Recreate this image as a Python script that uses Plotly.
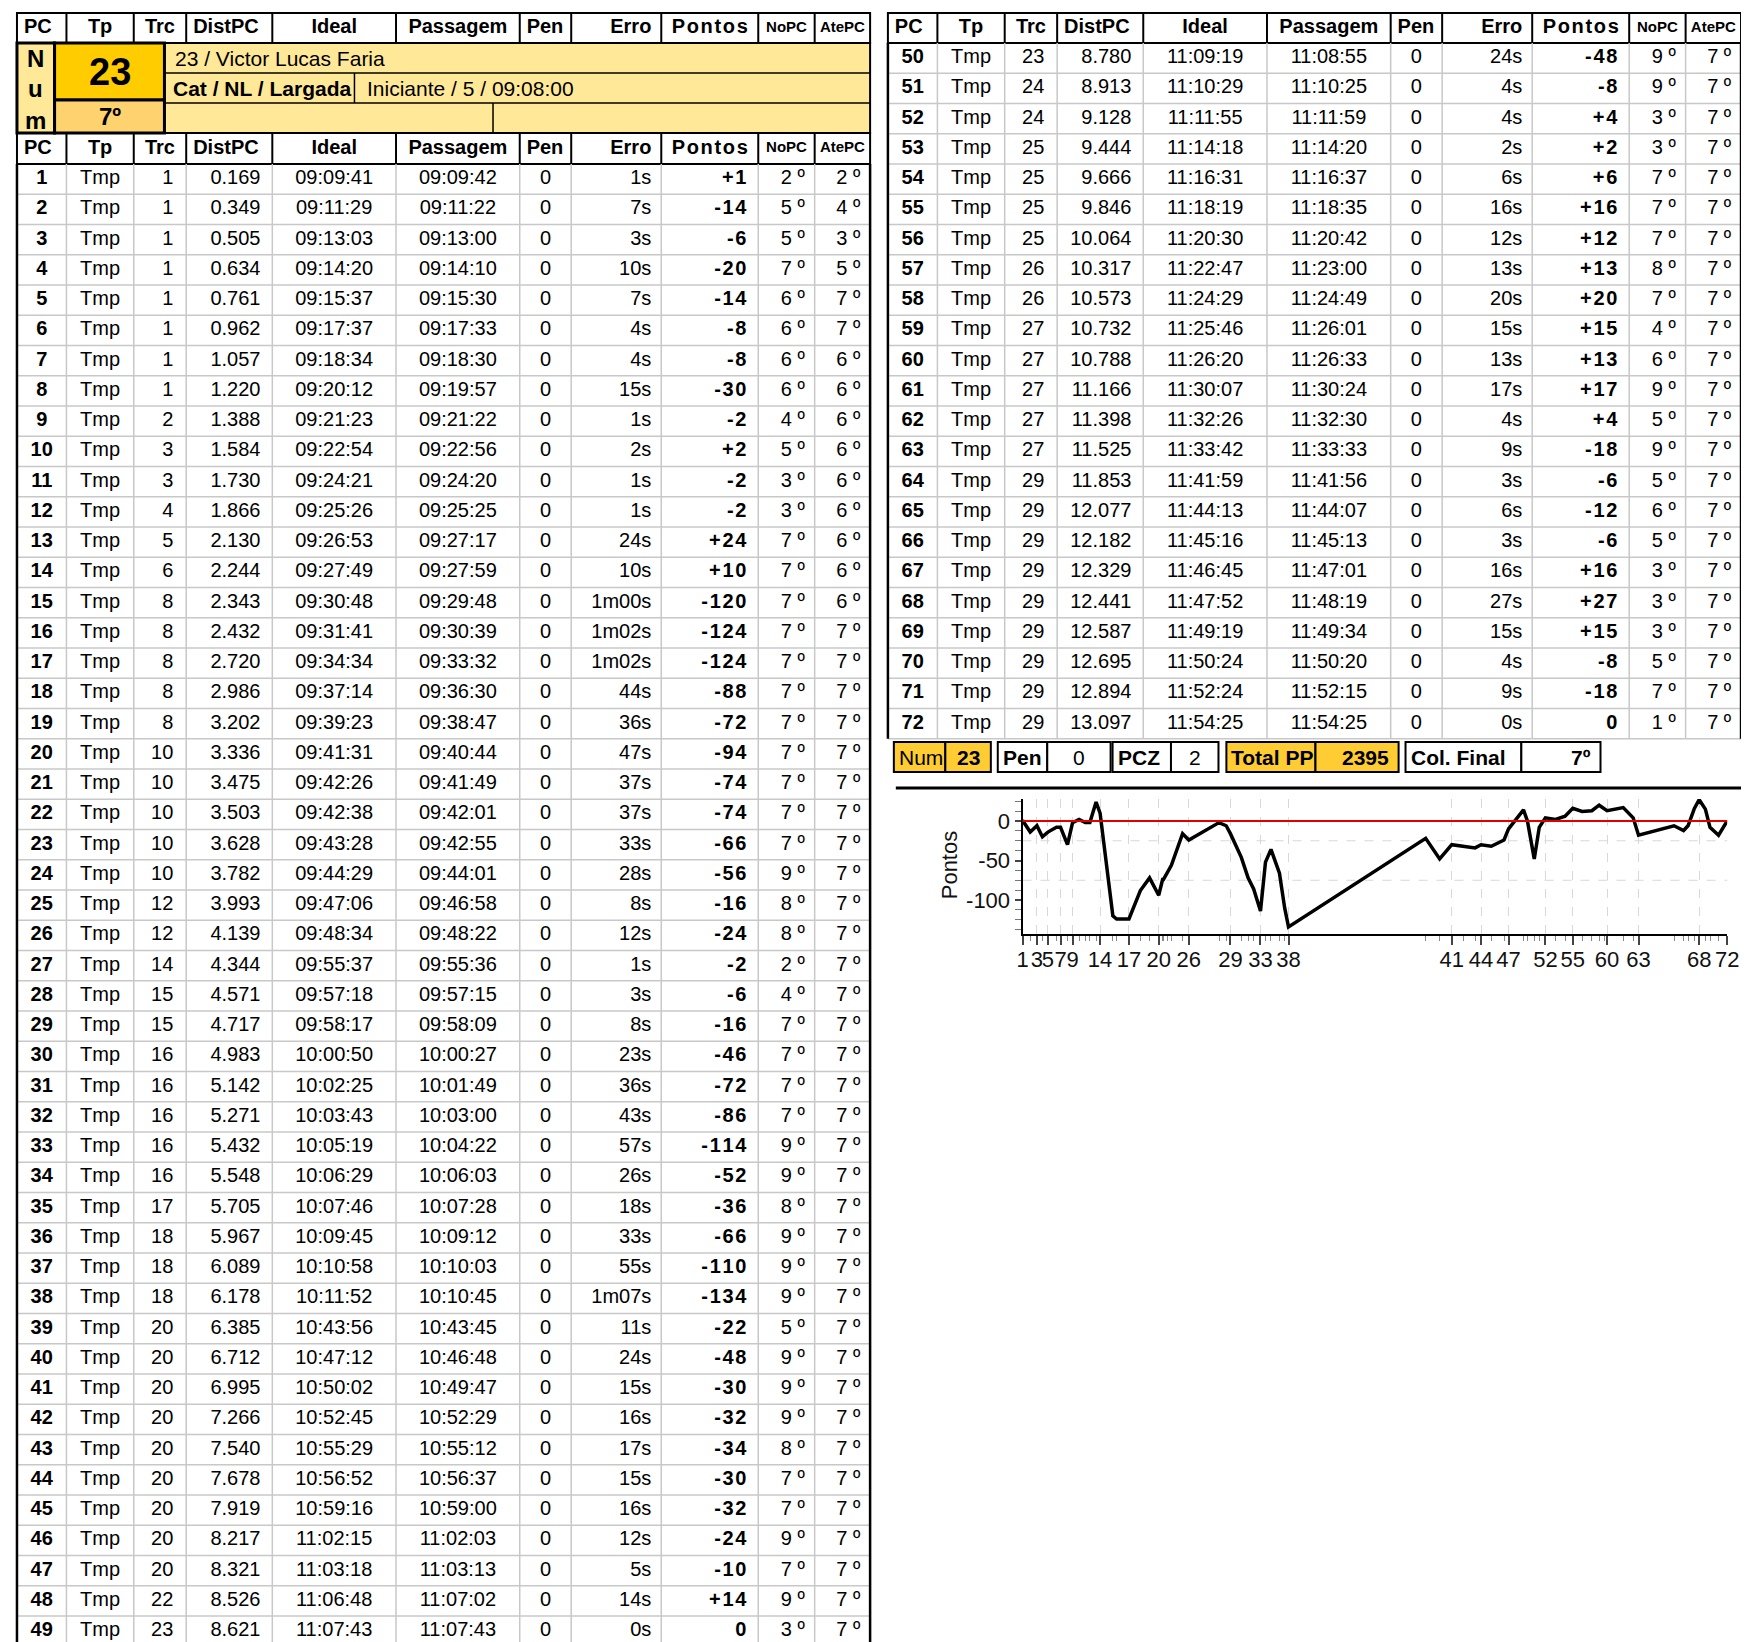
import plotly.graph_objects as go

W, H = 1749, 1642
OFF = 8  # default page margin of the html body
FONT = "Liberation Sans, Arial, sans-serif"

# ---------------- data ----------------
pc = list(range(1, 73))
tp = ["Tmp"] * 72
trc = [1, 1, 1, 1, 1, 1, 1, 1, 2, 3, 3, 4, 5, 6, 8, 8, 8, 8, 8, 10, 10, 10, 10, 10, 12, 12, 14, 15, 15, 16,
       16, 16, 16, 16, 17, 18, 18, 18, 20, 20, 20, 20, 20, 20, 20, 20, 20, 22, 23,
       23, 24, 24, 25, 25, 25, 25, 26, 26, 27, 27, 27, 27, 27, 29, 29, 29, 29, 29, 29, 29, 29, 29]
dist_pc = [0.169, 0.349, 0.505, 0.634, 0.761, 0.962, 1.057, 1.220, 1.388, 1.584, 1.730, 1.866, 2.130, 2.244,
           2.343, 2.432, 2.720, 2.986, 3.202, 3.336, 3.475, 3.503, 3.628, 3.782, 3.993, 4.139, 4.344, 4.571,
           4.717, 4.983, 5.142, 5.271, 5.432, 5.548, 5.705, 5.967, 6.089, 6.178, 6.385, 6.712, 6.995, 7.266,
           7.540, 7.678, 7.919, 8.217, 8.321, 8.526, 8.621,
           8.780, 8.913, 9.128, 9.444, 9.666, 9.846, 10.064, 10.317, 10.573, 10.732, 10.788, 11.166, 11.398,
           11.525, 11.853, 12.077, 12.182, 12.329, 12.441, 12.587, 12.695, 12.894, 13.097]
ideal = ["09:09:41", "09:11:29", "09:13:03", "09:14:20", "09:15:37", "09:17:37", "09:18:34", "09:20:12",
         "09:21:23", "09:22:54", "09:24:21", "09:25:26", "09:26:53", "09:27:49", "09:30:48", "09:31:41",
         "09:34:34", "09:37:14", "09:39:23", "09:41:31", "09:42:26", "09:42:38", "09:43:28", "09:44:29",
         "09:47:06", "09:48:34", "09:55:37", "09:57:18", "09:58:17", "10:00:50", "10:02:25", "10:03:43",
         "10:05:19", "10:06:29", "10:07:46", "10:09:45", "10:10:58", "10:11:52", "10:43:56", "10:47:12",
         "10:50:02", "10:52:45", "10:55:29", "10:56:52", "10:59:16", "11:02:15", "11:03:18", "11:06:48",
         "11:07:43",
         "11:09:19", "11:10:29", "11:11:55", "11:14:18", "11:16:31", "11:18:19", "11:20:30", "11:22:47",
         "11:24:29", "11:25:46", "11:26:20", "11:30:07", "11:32:26", "11:33:42", "11:41:59", "11:44:13",
         "11:45:16", "11:46:45", "11:47:52", "11:49:19", "11:50:24", "11:52:24", "11:54:25"]
passagem = ["09:09:42", "09:11:22", "09:13:00", "09:14:10", "09:15:30", "09:17:33", "09:18:30", "09:19:57",
            "09:21:22", "09:22:56", "09:24:20", "09:25:25", "09:27:17", "09:27:59", "09:29:48", "09:30:39",
            "09:33:32", "09:36:30", "09:38:47", "09:40:44", "09:41:49", "09:42:01", "09:42:55", "09:44:01",
            "09:46:58", "09:48:22", "09:55:36", "09:57:15", "09:58:09", "10:00:27", "10:01:49", "10:03:00",
            "10:04:22", "10:06:03", "10:07:28", "10:09:12", "10:10:03", "10:10:45", "10:43:45", "10:46:48",
            "10:49:47", "10:52:29", "10:55:12", "10:56:37", "10:59:00", "11:02:03", "11:03:13", "11:07:02",
            "11:07:43",
            "11:08:55", "11:10:25", "11:11:59", "11:14:20", "11:16:37", "11:18:35", "11:20:42", "11:23:00",
            "11:24:49", "11:26:01", "11:26:33", "11:30:24", "11:32:30", "11:33:33", "11:41:56", "11:44:07",
            "11:45:13", "11:47:01", "11:48:19", "11:49:34", "11:50:20", "11:52:15", "11:54:25"]
pen = [0] * 72
erro = ["1s", "7s", "3s", "10s", "7s", "4s", "4s", "15s", "1s", "2s", "1s", "1s", "24s", "10s", "1m00s",
        "1m02s", "1m02s", "44s", "36s", "47s", "37s", "37s", "33s", "28s", "8s", "12s", "1s", "3s", "8s",
        "23s", "36s", "43s", "57s", "26s", "18s", "33s", "55s", "1m07s", "11s", "24s", "15s", "16s", "17s",
        "15s", "16s", "12s", "5s", "14s", "0s",
        "24s", "4s", "4s", "2s", "6s", "16s", "12s", "13s", "20s", "15s", "13s", "17s", "4s", "9s", "3s",
        "6s", "3s", "16s", "27s", "15s", "4s", "9s", "0s"]
pontos = [1, -14, -6, -20, -14, -8, -8, -30, -2, 2, -2, -2, 24, 10, -120, -124, -124, -88, -72, -94, -74,
          -74, -66, -56, -16, -24, -2, -6, -16, -46, -72, -86, -114, -52, -36, -66, -110, -134, -22, -48,
          -30, -32, -34, -30, -32, -24, -10, 14, 0,
          -48, -8, 4, 2, 6, 16, 12, 13, 20, 15, 13, 17, 4, -18, -6, -12, -6, 16, 27, 15, -8, -18, 0]
no_pc = [2, 5, 5, 7, 6, 6, 6, 6, 4, 5, 3, 3, 7, 7, 7, 7, 7, 7, 7, 7, 7, 7, 7, 9, 8, 8, 2, 4, 7, 7, 7, 7, 9,
         9, 8, 9, 9, 9, 5, 9, 9, 9, 8, 7, 7, 9, 7, 9, 3,
         9, 9, 3, 3, 7, 7, 7, 8, 7, 4, 6, 9, 5, 9, 5, 6, 5, 3, 3, 3, 5, 7, 1]
ate_pc = [2, 4, 3, 5, 7, 7, 6, 6, 6, 6, 6, 6, 6, 6, 6, 7, 7, 7, 7, 7, 7, 7, 7, 7, 7, 7, 7, 7, 7, 7, 7, 7,
          7, 7, 7, 7, 7, 7, 7, 7, 7, 7, 7, 7, 7, 7, 7, 7, 7,
          7, 7, 7, 7, 7, 7, 7, 7, 7, 7, 7, 7, 7, 7, 7, 7, 7, 7, 7, 7, 7, 7, 7]

headers = ["PC", "Tp", "Trc", "DistPC", "Ideal", "Passagem", "Pen", "Erro", "Pontos", "NoPC", "AtePC"]
chart_label_pcs = [1, 3, 5, 7, 9, 14, 17, 20, 26, 29, 33, 38, 41, 44, 47, 52, 55, 60, 63, 68, 72]

comp_num = "23"
comp_name = "Victor Lucas Faria"
cat_label = "Cat / NL / Largada"
categoria, nl, largada = "Iniciante", 5, "09:08:00"
colocacao = "7º"
summary_labels = ["Num", "Pen", "PCZ", "Total PP", "Col. Final"]
summary_values = ["23", "0", "2", "2395", "7º"]

# ---------------- layout constants (page pixels) ----------------
COL_W = [50, 68, 53, 87, 125, 125, 52, 91, 98, 57, 56]
LEFT_X0, RIGHT_X0 = 11, 891
ROW_H = 30.25
GRID = "#C8C8C8"
HS = "\u200a"

hdr_align = ["left", "center", "center", "left", "center", "center", "left", "right", "center", "center", "center"]
hdr_size = [20, 20, 20, 20, 20, 20, 20, 20, 20, 15, 15]
cell_align = ["center", "center", "right", "right", "center", "center", "center", "right", "right", "right", "right"]
cell_pad = [0, 0, 13, 12, 0, 0, 0, 10, 12, 10, 10]


def bounds(x0):
    b = [x0]
    for w in COL_W:
        b.append(b[-1] + w)
    return b


def fmt_pontos(v):
    s = f"+{v}" if v > 0 else str(v)
    return "<b>" + HS.join(s) + "</b>"


def columns(sl):
    return [
        ["<b>%d</b>" % v for v in pc[sl]],
        tp[sl],
        [str(v) for v in trc[sl]],
        ["%.3f" % v for v in dist_pc[sl]],
        ideal[sl],
        passagem[sl],
        [str(v) for v in pen[sl]],
        erro[sl],
        [fmt_pontos(v) for v in pontos[sl]],
        ["%d º" % v for v in no_pc[sl]],
        ["%d º" % v for v in ate_pc[sl]],
    ]


fig = go.Figure()
shapes = []
annots = []


def add_text(xs, ys, texts, pos, size=20, color="black"):
    fig.add_trace(go.Scatter(x=xs, y=ys, text=texts, mode="text", textposition=pos,
                             textfont=dict(family=FONT, size=size, color=color),
                             hoverinfo="skip", showlegend=False, xaxis="x2", yaxis="y2"))


def anchor_x(b, c, align, pad):
    if align == "left":
        return b[c] + pad, "middle right"
    if align == "right":
        return b[c + 1] - pad, "middle left"
    return (b[c] + b[c + 1]) / 2, "middle center"


def line(x0, y0, x1, y1, color="black", width=2, dash="solid", layer="above"):
    shapes.append(dict(type="line", xref="x2", yref="y2", x0=x0, y0=y0, x1=x1, y1=y1,
                       line=dict(color=color, width=width, dash=dash), layer=layer))


def rect(x0, y0, x1, y1, fill="rgba(0,0,0,0)", lw=2, lc="black"):
    shapes.append(dict(type="rect", xref="x2", yref="y2", x0=x0, y0=y0, x1=x1, y1=y1,
                       fillcolor=fill, line=dict(color=lc, width=lw), layer="above"))


def text(s, x, y, size=20, anchor="left", bold=False, color="black"):
    annots.append(dict(text=("<b>%s</b>" % s) if bold else s, xref="x2", yref="y2", x=x, y=y,
                       showarrow=False, xanchor=anchor, yanchor="middle",
                       font=dict(family=FONT, size=size, color=color)))


def header_row(b, y0, y1):
    xr = b[-1]
    rect(b[0], y0, xr, y1, "rgba(0,0,0,0)", 2)
    for x in b[1:-1]:
        line(x, y0, x, y1, "black", 2)
    yc = (y0 + y1) / 2
    for c, h in enumerate(headers):
        lab = "<b>" + (HS.join(h) if h == "Pontos" else h) + "</b>"
        pad = 7 if hdr_align[c] == "left" else 10
        x, pos = anchor_x(b, c, hdr_align[c], pad)
        add_text([x], [yc], [lab], pos, hdr_size[c])


def data_block(b, top, sl, bottom_limit):
    cols = columns(sl)
    n = len(cols[0])
    ys = [top + (i + 0.5) * ROW_H for i in range(n)]
    bottom = min(top + n * ROW_H, bottom_limit)
    xr = b[-1]
    for i in range(1, n + 1):
        y = top + i * ROW_H
        if y <= bottom_limit:
            line(b[0], y, xr, y, GRID, 1.5)
    for x in b[1:-1]:
        line(x, top, x, bottom, GRID, 1.5)
    line(b[0], top, b[0], bottom, "black", 2.5)
    line(b[-1], top, b[-1], bottom, "black", 2.5)
    for c in range(len(headers)):
        x, pos = anchor_x(b, c, cell_align[c], cell_pad[c])
        add_text([x] * n, ys, cols[c], pos, 20)


bl = bounds(LEFT_X0)
br = bounds(RIGHT_X0)

# left table
header_row(bl, 13, 43)
header_row(bl, 133, 164)
data_block(bl, 164, slice(0, 49), H + 20)
# right table
header_row(br, 13, 43)
data_block(br, 43, slice(49, 72), H)

# ---------------- Num block ----------------
LY = "#FFE999"
rect(160, 43, bl[-1], 133, LY, 2)
line(160, 73, bl[-1], 73, "black", 1.5)
line(160, 103, bl[-1], 103, "black", 1.5)
line(352, 73, 352, 103, "black", 1.5)
line(492, 103, 492, 133, "black", 1.5)
rect(11, 43, 49, 133, LY, 3)
rect(49, 43, 160, 100, "#FFCC00", 3)
rect(49, 100, 160, 133, "#FFD270", 3)
for ch, yy in zip("Num", (58, 88, 120)):
    text(ch, 30, yy, 24, "center", True)
text(comp_num, 104.5, 72, 38, "center", True)
text(colocacao, 104.5, 116, 24, "center", True)
text(f"{comp_num} / {comp_name}", 169, 58, 21)
text(cat_label, 167, 88, 21, bold=True)
text(f"{categoria} / {nl} / {largada}", 363, 88, 21)

# ---------------- summary boxes ----------------
GOLD = "#FFCC33"
boxes = [(897, 949, 995, GOLD), (1002, 1052, 1116, "white"), (1118, 1177, 1225, "white"),
         (1233, 1323, 1407, GOLD), (1414, 1531, 1611, "white")]
val_align = ["center", "center", "center", "right", "right"]
val_bold = [True, False, False, True, True]
for (x0, xm, x1, fc), lab, val, va, vb in zip(boxes, summary_labels, summary_values, val_align, val_bold):
    rect(x0, 742, xm, 772, fc, 2)
    rect(xm, 742, x1, 772, fc, 2)
    text(lab, x0 + 3, 757, 21, "left", bold=(lab != "Num"))
    if va == "center":
        text(val, (xm + x1) / 2, 757, 21, "center", vb)
    else:
        text(val, x1 - 8, 757, 21, "right", vb)

# divider above chart
line(899, 788, W + OFF, 788, "black", 3)

# ---------------- chart ----------------
def secs(t):
    h, m, s = (int(v) for v in t.split(":"))
    return h * 3600 + m * 60 + s


t = [secs(v) for v in ideal]
fig.add_trace(go.Scatter(x=t, y=pontos, mode="lines", line=dict(color="black", width=3.5),
                         xaxis="x", yaxis="y", showlegend=False, hoverinfo="skip"))

for gy in (-25, -75):
    shapes.append(dict(type="line", xref="x domain", yref="y", x0=0, x1=1, y0=gy, y1=gy,
                       line=dict(color="#D8D8D8", width=1, dash="dash"), layer="below"))
shapes.append(dict(type="line", xref="x domain", yref="y", x0=0, x1=1, y0=0, y1=0,
                   line=dict(color="#E00000", width=2), layer="above"))
annots.append(dict(text="Pontos", xref="x2", yref="y2", x=953, y=865, showarrow=False,
                   textangle=-90, font=dict(family=FONT, size=22, color="#111"),
                   xanchor="center", yanchor="middle"))


def dx(p):
    return (p - OFF) / W


def dy(p):
    return 1 - (p - OFF) / H


tick_x = [t[p - 1] for p in chart_label_pcs]
fig.update_layout(
    xaxis=dict(domain=[dx(1027), dx(1739)], range=[t[0], t[-1]], tickmode="array", tickvals=tick_x,
               ticktext=[str(p) for p in chart_label_pcs], tickangle=0, ticks="outside", ticklen=9,
               tickwidth=1.5, tickcolor="#444", showgrid=True, gridcolor="#D8D8D8", griddash="dash",
               gridwidth=1, showline=True, linecolor="black", linewidth=2, zeroline=False,
               tickfont=dict(family=FONT, size=22, color="#111"), anchor="y", ticklabelstandoff=-4,
               minor=dict(tickmode="array", tickvals=t, ticks="outside", ticklen=5, tickcolor="#888",
                          tickwidth=1, showgrid=False),
               fixedrange=True),
    yaxis=dict(domain=[dy(934), dy(799)], range=[-143.0, 27.85], tickmode="array",
               tickvals=[0, -50, -100], ticktext=["0", "-50", "-100"], ticks="outside", ticklen=6,
               tickwidth=1.5, tickcolor="#444", showgrid=False, showline=True, linecolor="black",
               linewidth=2, zeroline=False, tickfont=dict(family=FONT, size=22, color="#111"), anchor="x",
               minor=dict(tickmode="array", tickvals=[25, 12.5, -12.5, -25, -37.5, -62.5, -75, -87.5,
                                                      -112.5, -125, -137.5],
                          ticks="outside", ticklen=6, tickcolor="#777", tickwidth=1, showgrid=False),
               fixedrange=True),
    # overlay axis measured in page pixels, used to lay out the tables
    xaxis2=dict(domain=[0, 1], range=[OFF, W + OFF], visible=False, anchor="y2", fixedrange=True),
    yaxis2=dict(domain=[0, 1], range=[H + OFF, OFF], visible=False, anchor="x2", fixedrange=True),
)

fig.update_layout(width=W, height=H, margin=dict(l=0, r=0, t=0, b=0), paper_bgcolor="white",
                  plot_bgcolor="rgba(0,0,0,0)", shapes=shapes, annotations=annots, showlegend=False,
                  font=dict(family=FONT))

fig.write_html("out.html")
